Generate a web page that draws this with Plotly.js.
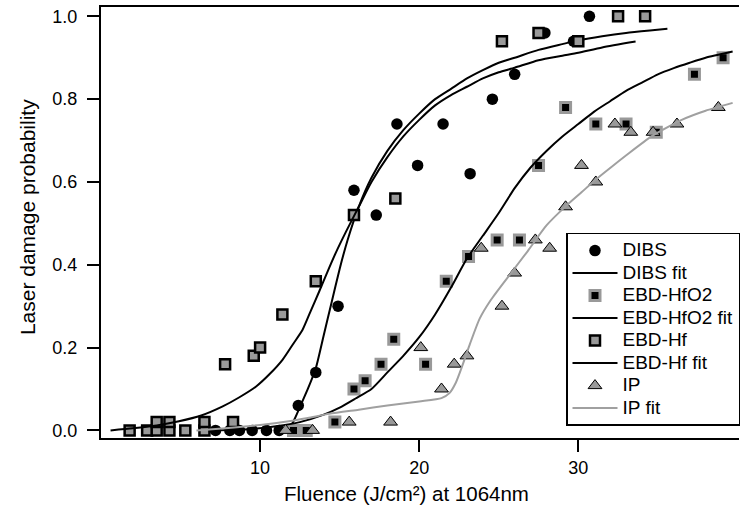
<!DOCTYPE html>
<html><head><meta charset="utf-8">
<script src="https://cdn.plot.ly/plotly-3.0.1.min.js"></script>
<style>html,body{margin:0;padding:0;background:#fff}</style>
</head><body><div id="chart" style="width:740px;height:510px"></div>
<script>
// ---- data ----
const dibsX = [7.2, 8.1, 8.7, 9.5, 10.4, 11.2, 12.4, 13.5, 14.9, 15.9, 17.3, 18.6, 19.9, 21.5, 23.2, 24.6, 26.0, 27.9, 29.7, 30.7];
const dibsY = [0, 0, 0, 0, 0, 0, 0.06, 0.14, 0.30, 0.58, 0.52, 0.74, 0.64, 0.74, 0.62, 0.80, 0.86, 0.96, 0.94, 1.0];

const dibsFitX = [11.8, 12.2, 12.6, 13.0, 13.5, 14.0, 14.5, 15.0, 15.5, 16.2, 17.0, 18.0, 19.0, 20.0, 21.0, 22.0, 23.0, 24.0, 25.0, 26.0, 27.5, 29.0, 30.0, 31.5, 33.0, 34.5, 35.6];
const dibsFitY = [0.0, 0.03, 0.065, 0.10, 0.15, 0.23, 0.31, 0.39, 0.46, 0.54, 0.61, 0.675, 0.725, 0.765, 0.80, 0.825, 0.85, 0.87, 0.888, 0.90, 0.919, 0.933, 0.942, 0.952, 0.96, 0.966, 0.970];

const hfo2X = [12.1, 12.9, 14.7, 15.9, 16.6, 17.6, 18.4, 20.4, 21.7, 23.1, 24.9, 26.3, 27.5, 29.2, 31.1, 33.0, 34.9, 37.3, 39.1];
const hfo2Y = [0, 0, 0.02, 0.10, 0.12, 0.16, 0.22, 0.16, 0.36, 0.42, 0.46, 0.46, 0.64, 0.78, 0.74, 0.74, 0.72, 0.86, 0.90];

const hfo2FitX = [7.0, 9.0, 11.0, 12.5, 14.0, 15.0, 16.0, 17.0, 18.0, 19.0, 20.0, 21.0, 22.0, 23.0, 24.0, 25.0, 26.0, 27.0, 28.0, 29.0, 30.0, 31.0, 32.0, 33.0, 34.0, 35.0, 36.0, 37.0, 38.0, 39.7];
const hfo2FitY = [0.0, 0.002, 0.01, 0.02, 0.038, 0.055, 0.077, 0.10, 0.14, 0.18, 0.225, 0.28, 0.345, 0.415, 0.47, 0.525, 0.585, 0.635, 0.675, 0.71, 0.74, 0.77, 0.795, 0.82, 0.84, 0.86, 0.875, 0.888, 0.90, 0.915];

const hfX = [1.8, 2.9, 3.5, 3.5, 4.3, 4.3, 5.3, 6.5, 6.5, 8.3, 7.8, 9.6, 10.0, 11.4, 13.5, 15.9, 18.5, 25.2, 27.5, 30.0, 32.5, 34.2];
const hfY = [0, 0, 0, 0.02, 0, 0.02, 0, 0, 0.02, 0.02, 0.16, 0.18, 0.20, 0.28, 0.36, 0.52, 0.56, 0.94, 0.96, 0.94, 1.0, 1.0];

const hfFitX = [0.6, 2.0, 3.5, 4.9, 6.3, 7.65, 8.7, 9.75, 10.6, 11.42, 12.1, 12.67, 13.2, 13.72, 14.2, 14.77, 15.4, 16.2, 17.0, 18.0, 19.0, 20.0, 21.0, 22.0, 23.0, 24.0, 25.0, 26.0, 27.5, 29.0, 30.0, 31.5, 33.6];
const hfFitY = [0.0, 0.005, 0.012, 0.022, 0.036, 0.058, 0.08, 0.106, 0.136, 0.171, 0.21, 0.243, 0.29, 0.336, 0.38, 0.43, 0.48, 0.54, 0.60, 0.66, 0.71, 0.75, 0.785, 0.81, 0.83, 0.85, 0.865, 0.876, 0.894, 0.905, 0.912, 0.925, 0.939];

const ipX = [11.6, 13.3, 15.6, 18.2, 20.1, 21.4, 22.2, 23.0, 23.9, 25.2, 26.0, 27.3, 28.2, 29.2, 30.2, 31.1, 32.3, 33.3, 34.7, 36.2, 38.8];
const ipY = [0, 0, 0.02, 0.02, 0.20, 0.10, 0.16, 0.18, 0.44, 0.30, 0.38, 0.46, 0.44, 0.54, 0.64, 0.60, 0.74, 0.72, 0.72, 0.74, 0.78];

const ipFitX = [6.0, 8.0, 10.0, 11.8, 13.0, 14.35, 16.2, 18.0, 20.0, 21.4, 21.9, 22.3, 22.7, 23.2, 23.8, 24.5, 25.65, 26.8, 28.0, 29.2, 30.2, 31.1, 32.2, 33.2, 34.6, 35.5, 36.5, 38.0, 39.7];
const ipFitY = [0.0, 0.006, 0.013, 0.022, 0.03, 0.04, 0.05, 0.06, 0.07, 0.078, 0.09, 0.115, 0.155, 0.21, 0.27, 0.315, 0.374, 0.432, 0.495, 0.541, 0.575, 0.606, 0.64, 0.67, 0.71, 0.73, 0.75, 0.772, 0.791];

const xTickVals = [10, 20, 30];
const xTickText = ['10', '20', '30'];
const yTickVals = [0, 0.2, 0.4, 0.6, 0.8, 1.0];
const yTickText = ['0.0', '0.2', '0.4', '0.6', '0.8', '1.0'];

const seriesNames = ['DIBS', 'DIBS fit', 'EBD-HfO2', 'EBD-HfO2 fit', 'EBD-Hf', 'EBD-Hf fit', 'IP', 'IP fit'];
const xTitle = 'Fluence (J/cm²) at 1064nm';
const yTitle = 'Laser damage probability';

// ---- styling ----
const GRAY = '#999999';
const FONT = 'Liberation Sans, Arial, sans-serif';
const legName = s => '<span style="font-size:19px">' + s + '</span>';

const traces = [
  {x: dibsX, y: dibsY, name: legName(seriesNames[0]), mode: 'markers',
   marker: {symbol: 'circle', size: 11.5, color: '#000', line: {width: 0}}},
  {x: dibsFitX, y: dibsFitY, name: legName(seriesNames[1]), mode: 'lines',
   line: {color: '#000', width: 2, shape: 'spline', smoothing: 0.6}},
  {x: hfo2X, y: hfo2Y, name: legName(seriesNames[2]), mode: 'markers',
   marker: {symbol: 'square', size: 10, color: '#000', line: {width: 3, color: GRAY}}},
  {x: hfo2FitX, y: hfo2FitY, name: legName(seriesNames[3]), mode: 'lines',
   line: {color: '#000', width: 2, shape: 'spline', smoothing: 0.6}},
  {x: hfX, y: hfY, name: legName(seriesNames[4]), mode: 'markers',
   marker: {symbol: 'square', size: 10, color: GRAY, line: {width: 2.5, color: '#000'}}},
  {x: hfFitX, y: hfFitY, name: legName(seriesNames[5]), mode: 'lines',
   line: {color: '#000', width: 2, shape: 'spline', smoothing: 0.6}},
  {x: ipX, y: ipY, name: legName(seriesNames[6]), mode: 'markers',
   marker: {symbol: 'triangle-up', size: 12, color: GRAY, line: {width: 1, color: '#000'}}},
  {x: ipFitX, y: ipFitY, name: legName(seriesNames[7]), mode: 'lines',
   line: {color: '#a0a0a0', width: 2, shape: 'spline', smoothing: 0.6}}
];

const layout = {
  width: 740, height: 510,
  margin: {l: 101, r: 0, t: 7, b: 72, pad: 0},
  paper_bgcolor: '#fff', plot_bgcolor: '#fff',
  font: {family: FONT, size: 18, color: '#000'},
  showlegend: true,
  legend: {
    x: 0.729, y: 0.476, xanchor: 'left', yanchor: 'top',
    bgcolor: '#fff', bordercolor: '#000', borderwidth: 1.5,
    font: {family: FONT, size: 15, color: '#000'},
    itemwidth: 45,
    tracegroupgap: 0
  },
  xaxis: {
    range: [0, 40.1], autorange: false,
    tickmode: 'array', tickvals: xTickVals, ticktext: xTickText,
    ticks: 'outside', ticklen: 12, tickwidth: 2, tickcolor: '#000',
    showline: true, linecolor: '#000', linewidth: 2, mirror: true,
    showgrid: false, zeroline: false,
    tickfont: {family: FONT, size: 18, color: '#000'}
  },
  yaxis: {
    range: [-0.0184, 1.0226], autorange: false,
    tickmode: 'array', tickvals: yTickVals, ticktext: yTickText,
    ticks: 'outside', ticklen: 12, tickwidth: 2, tickcolor: '#000',
    ticklabelstandoff: 6,
    showline: true, linecolor: '#000', linewidth: 2, mirror: false,
    showgrid: false, zeroline: false,
    tickfont: {family: FONT, size: 18, color: '#000'}
  },
  annotations: [
    {text: xTitle, xref: 'paper', yref: 'paper', x: (407 - 101) / 639, y: -(494 - 438) / 431,
     xanchor: 'center', yanchor: 'middle', showarrow: false,
     font: {family: FONT, size: 20.5, color: '#000'}},
    {text: yTitle, xref: 'paper', yref: 'paper', x: -(101 - 27) / 639, y: (438 - 217) / 431,
     xanchor: 'center', yanchor: 'middle', textangle: -90, showarrow: false,
     font: {family: FONT, size: 21, color: '#000'}}
  ]
};

Plotly.newPlot('chart', traces, layout, {displayModeBar: false, staticPlot: true});
</script>
</body></html>
